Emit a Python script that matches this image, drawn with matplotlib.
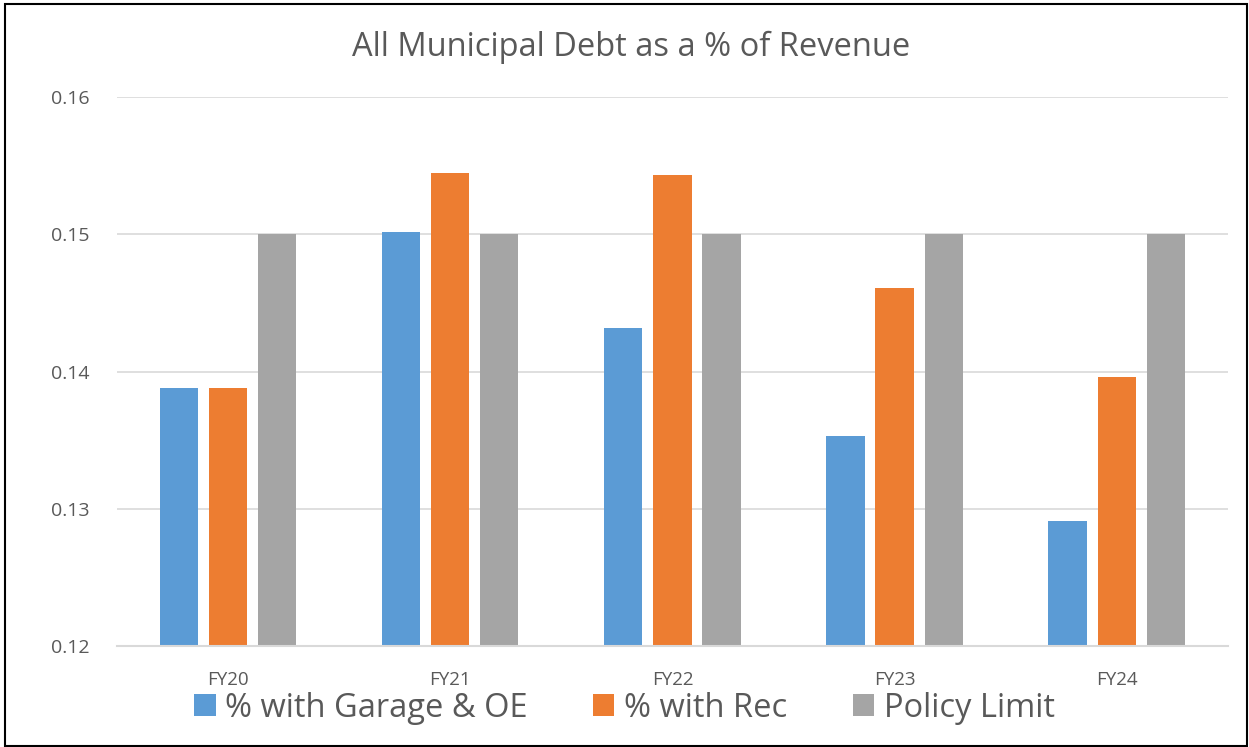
import matplotlib.pyplot as plt
import numpy as np
from matplotlib.patches import Rectangle

plt.rcParams['font.family'] = ['Open Sans', 'DejaVu Sans']

years = ['FY20', 'FY21', 'FY22', 'FY23', 'FY24']
garage_oe = [0.1388, 0.1502, 0.1432, 0.1353, 0.1291]
with_rec = [0.1388, 0.1545, 0.1543, 0.1461, 0.1396]
policy_limit = [0.15, 0.15, 0.15, 0.15, 0.15]

series = [
    ('% with Garage & OE', garage_oe, '#5b9bd5'),
    ('% with Rec', with_rec, '#ed7d31'),
    ('Policy Limit', policy_limit, '#a5a5a5'),
]

fig = plt.figure(figsize=(12.49, 7.47), dpi=100)
ax = fig.add_axes([0.0937, 0.1352, 0.8893, 0.7349])

x = np.arange(len(years))
width = 0.172
step = 0.221
for i, (name, vals, color) in enumerate(series):
    ax.bar(x + (i - 1) * step, np.array(vals) - 0.12, width, bottom=0.12,
           color=color, label=name, zorder=2)

ax.set_xlim(-0.5, len(years) - 0.5)
ax.set_ylim(0.12, 0.16)
ax.set_yticks([0.12, 0.13, 0.14, 0.15, 0.16])
ax.set_yticklabels(['0.12', '0.13', '0.14', '0.15', '0.16'])
ax.set_xticks(x)
ax.set_xticklabels(years)
ax.grid(axis='y', color='#d9d9d9', linewidth=1.2, zorder=0)
for s in ['top', 'right', 'left']:
    ax.spines[s].set_visible(False)
ax.spines['bottom'].set_color('#d9d9d9')
ax.spines['bottom'].set_linewidth(1.5)
ax.tick_params(axis='both', length=0, colors='#595959')
ax.tick_params(axis='y', labelsize=14, pad=20)
ax.tick_params(axis='x', labelsize=13.5, pad=18)

fig.text(0.505, 0.936, 'All Municipal Debt as a % of Revenue', ha='center',
         va='center', fontsize=23.5, color='#595959')

fig.legend(loc='center', bbox_to_anchor=(0.5, 0.052), ncol=3, frameon=False,
           fontsize=23.5, handlelength=0.65, handleheight=0.65, handletextpad=0.3,
           columnspacing=2.0, labelcolor='#595959')

fig.patches.append(Rectangle((0.004, 0.002), 0.994, 0.992, transform=fig.transFigure,
                             fill=False, edgecolor='black', linewidth=1.5))

fig.savefig('out.png', dpi=100)
